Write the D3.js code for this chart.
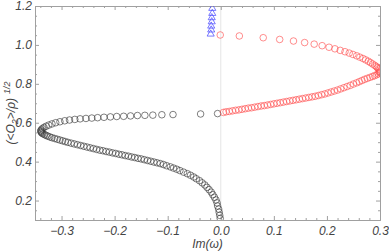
<!DOCTYPE html>
<html><head><meta charset="utf-8">
<script src="https://cdn.jsdelivr.net/npm/d3@7"></script>
<style>
html,body{margin:0;padding:0;background:#fff;}
svg{display:block;}
text{font-family:"Liberation Sans",Arial,sans-serif;font-style:italic;}
</style></head>
<body><svg id="c" width="389" height="251"></svg>
<script>
// ---- data ----
const blackX = [-0.001,-0.002,-0.003,-0.004,-0.006,-0.007,-0.009,-0.012,-0.015,-0.018,-0.022,-0.026,-0.030,-0.035,-0.040,-0.046,-0.051,-0.057,-0.063,-0.070,-0.077,-0.083,-0.089,-0.095,-0.102,-0.108,-0.114,-0.120,-0.126,-0.132,-0.138,-0.144,-0.150,-0.156,-0.162,-0.168,-0.174,-0.180,-0.186,-0.192,-0.198,-0.204,-0.210,-0.216,-0.222,-0.228,-0.234,-0.240,-0.246,-0.252,-0.258,-0.264,-0.270,-0.276,-0.282,-0.288,-0.293,-0.298,-0.303,-0.308,-0.313,-0.318,-0.322,-0.326,-0.329,-0.332,-0.335,-0.337,-0.338,-0.339,-0.339,-0.338,-0.336,-0.333,-0.329,-0.324,-0.318,-0.311,-0.303,-0.294,-0.285,-0.275,-0.265,-0.254,-0.243,-0.232,-0.220,-0.208,-0.196,-0.183,-0.170,-0.157,-0.143,-0.128,-0.111,-0.090,-0.038,-0.006];
const blackY = [0.108,0.124,0.140,0.156,0.172,0.188,0.203,0.217,0.230,0.243,0.256,0.268,0.280,0.291,0.302,0.312,0.321,0.330,0.338,0.346,0.354,0.361,0.367,0.373,0.379,0.385,0.390,0.394,0.398,0.402,0.406,0.410,0.414,0.417,0.421,0.424,0.428,0.431,0.435,0.438,0.442,0.445,0.449,0.452,0.456,0.459,0.463,0.467,0.471,0.475,0.479,0.483,0.487,0.491,0.495,0.499,0.503,0.507,0.511,0.515,0.519,0.523,0.527,0.531,0.535,0.539,0.543,0.547,0.551,0.555,0.559,0.564,0.570,0.576,0.582,0.588,0.594,0.600,0.605,0.610,0.614,0.617,0.620,0.622,0.624,0.626,0.628,0.630,0.632,0.633,0.635,0.637,0.638,0.639,0.641,0.642,0.645,0.647];

const redX = [-0.001,0.035,0.080,0.111,0.137,0.158,0.176,0.191,0.204,0.215,0.225,0.234,0.242,0.249,0.256,0.262,0.268,0.273,0.278,0.282,0.286,0.290,0.293,0.295,0.297,0.299,0.300,0.300,0.299,0.297,0.294,0.290,0.286,0.281,0.276,0.271,0.266,0.261,0.256,0.250,0.244,0.238,0.232,0.226,0.220,0.214,0.208,0.202,0.196,0.190,0.184,0.178,0.172,0.166,0.160,0.154,0.148,0.142,0.136,0.130,0.124,0.118,0.112,0.106,0.100,0.094,0.088,0.082,0.076,0.070,0.064,0.058,0.052,0.046,0.040,0.034,0.028,0.022,0.016,0.010,0.005];
const redY = [1.051,1.046,1.037,1.028,1.020,1.012,1.004,0.996,0.988,0.980,0.972,0.965,0.958,0.951,0.944,0.937,0.930,0.923,0.916,0.909,0.902,0.895,0.889,0.883,0.877,0.871,0.865,0.859,0.858,0.852,0.847,0.842,0.838,0.833,0.828,0.823,0.817,0.811,0.805,0.799,0.792,0.786,0.780,0.774,0.768,0.763,0.758,0.753,0.748,0.744,0.740,0.736,0.733,0.730,0.727,0.724,0.721,0.718,0.715,0.712,0.709,0.706,0.703,0.700,0.697,0.694,0.691,0.688,0.686,0.683,0.680,0.677,0.675,0.672,0.669,0.666,0.664,0.661,0.658,0.656,0.653];

const blueX = [-0.016,-0.016,-0.017,-0.017,-0.018,-0.018,-0.019];
const blueY = [1.188,1.162,1.140,1.119,1.097,1.077,1.056];

const xMajorTicks = [-0.3,-0.2,-0.1,0.0,0.1,0.2,0.3];
const yMajorTicks = [0.2,0.4,0.6,0.8,1.0,1.2];
const xLabel = "Im(ω)";

// ---- chart ----
const svg = d3.select("#c");
const L = 35, R = 380, T = 6, B = 220;
const x = d3.scaleLinear().domain([-0.35, 0.3]).range([L, R]);
const y = d3.scaleLinear().domain([0.1, 1.2]).range([B, T]);

const xMinor = d3.range(-34, 31, 2).map(v => v / 100).filter(v => !xMajorTicks.some(m => Math.abs(m - v) < 1e-9));
const yMinor = d3.range(2, 25, 1).map(v => v * 0.05).filter(v => v >= 0.1 && v <= 1.2 && !yMajorTicks.some(m => Math.abs(m - v) < 1e-9));

// zero gridline
svg.append("line").attr("x1", x(0)).attr("x2", x(0)).attr("y1", T).attr("y2", B)
  .attr("stroke", "#e6e6e6").attr("stroke-width", 1);

const frameColor = "#a0a0a0";
function styleAxis(g){
  g.select(".domain").attr("stroke", frameColor);
  g.selectAll(".tick line").attr("stroke", frameColor);
  g.selectAll("text").attr("fill", "#444").style("font-size", "12px").style("font-style", "italic");
}
const fmt = d3.format(".1f");
// bottom
svg.append("g").attr("transform", `translate(0,${B})`)
  .call(d3.axisBottom(x).tickValues(xMajorTicks).tickSize(-4).tickPadding(6).tickFormat(fmt).tickSizeOuter(0)).call(styleAxis);
svg.append("g").attr("transform", `translate(0,${B})`)
  .call(d3.axisBottom(x).tickValues(xMinor).tickSize(-2).tickFormat("").tickSizeOuter(0)).call(styleAxis);
// top
svg.append("g").attr("transform", `translate(0,${T})`)
  .call(d3.axisTop(x).tickValues(xMajorTicks).tickSize(-4).tickFormat("").tickSizeOuter(0)).call(styleAxis);
svg.append("g").attr("transform", `translate(0,${T})`)
  .call(d3.axisTop(x).tickValues(xMinor).tickSize(-2).tickFormat("").tickSizeOuter(0)).call(styleAxis);
// left
svg.append("g").attr("transform", `translate(${L},0)`)
  .call(d3.axisLeft(y).tickValues(yMajorTicks).tickSize(-4).tickPadding(3).tickFormat(fmt).tickSizeOuter(0)).call(styleAxis);
svg.append("g").attr("transform", `translate(${L},0)`)
  .call(d3.axisLeft(y).tickValues(yMinor).tickSize(-2).tickFormat("").tickSizeOuter(0)).call(styleAxis);
// right
svg.append("g").attr("transform", `translate(${R},0)`)
  .call(d3.axisRight(y).tickValues(yMajorTicks).tickSize(-4).tickFormat("").tickSizeOuter(0)).call(styleAxis);
svg.append("g").attr("transform", `translate(${R},0)`)
  .call(d3.axisRight(y).tickValues(yMinor).tickSize(-2).tickFormat("").tickSizeOuter(0)).call(styleAxis);

// clip
svg.append("clipPath").attr("id", "clip").append("rect")
  .attr("x", L).attr("y", T).attr("width", R - L).attr("height", B - T);
const plot = svg.append("g").attr("clip-path", "url(#clip)");

const blackPts = blackX.map((v, i) => [v, blackY[i]]);
const redPts = redX.map((v, i) => [v, redY[i]]);
const bluePts = blueX.map((v, i) => [v, blueY[i]]);

plot.selectAll(".b").data(blackPts).join("circle")
  .attr("cx", d => x(d[0])).attr("cy", d => y(d[1])).attr("r", 3.3)
  .attr("fill", "none").attr("stroke", "#3a3a3a").attr("stroke-opacity", 0.72).attr("stroke-width", 0.9);
plot.selectAll(".r").data(redPts).join("circle")
  .attr("cx", d => x(d[0])).attr("cy", d => y(d[1])).attr("r", 3.3)
  .attr("fill", "none").attr("stroke", "rgb(255,80,80)").attr("stroke-opacity", 0.72).attr("stroke-width", 0.9);
const tri = d3.symbol().type(d3.symbolTriangle).size(22);
plot.selectAll(".t").data(bluePts).join("path")
  .attr("d", tri).attr("transform", d => `translate(${x(d[0])},${y(d[1])})`)
  .attr("fill", "none").attr("stroke", "rgb(80,80,255)").attr("stroke-opacity", 0.85).attr("stroke-width", 0.9);

// axis labels
svg.append("text").attr("x", (L + R) / 2).attr("y", 248).attr("text-anchor", "middle")
  .attr("fill", "#444").style("font-size", "12px").text(xLabel);

const yl = svg.append("text").attr("transform", `translate(15,${(T + B) / 2}) rotate(-90)`)
  .attr("text-anchor", "middle").attr("fill", "#444").style("font-size", "12px");
yl.append("tspan").text("(<O");
yl.append("tspan").attr("dy", 3).style("font-size", "9px").text("2");
yl.append("tspan").attr("dy", -3).text(">/ρ)");
yl.append("tspan").attr("dy", -5).attr("dx", 4).style("font-size", "9px").text("1/2");
</script></body></html>
